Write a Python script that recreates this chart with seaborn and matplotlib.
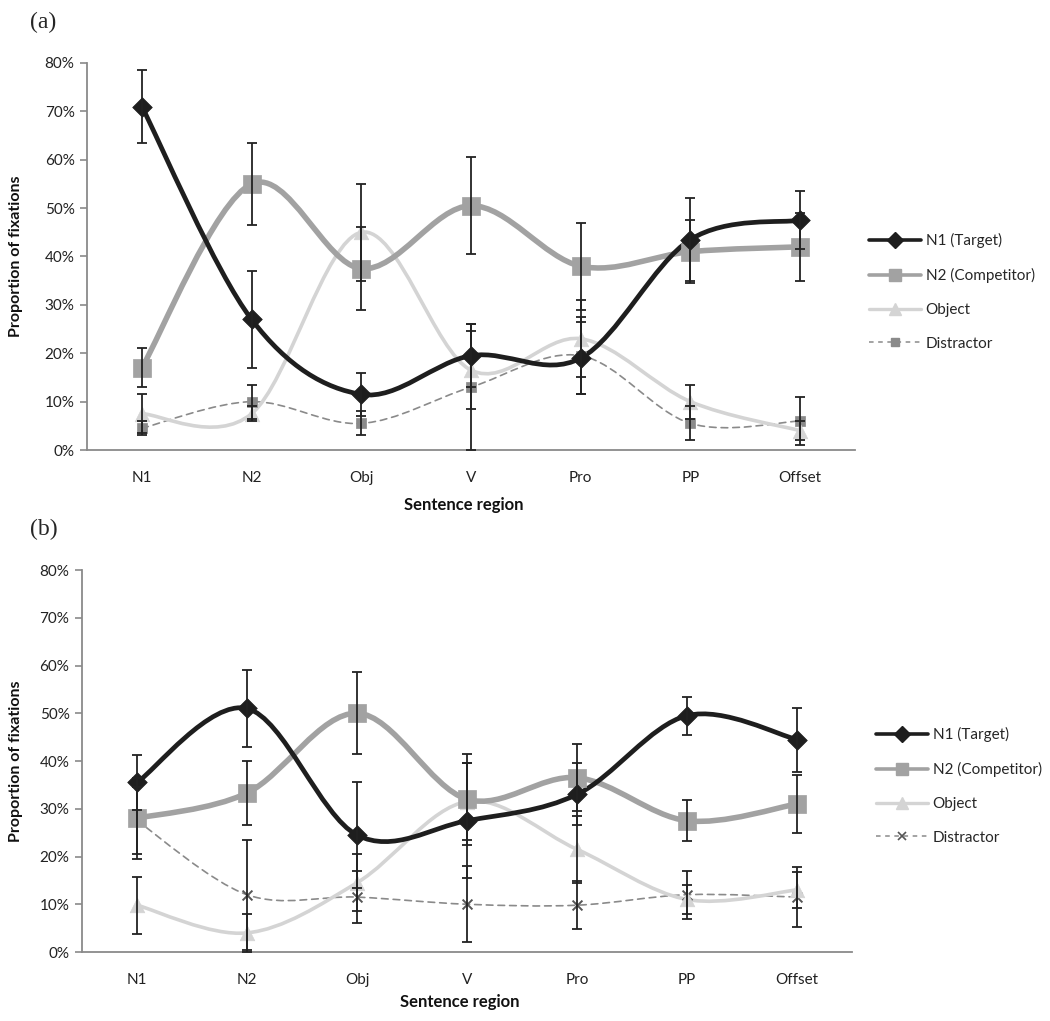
import numpy as np
import pandas as pd
import matplotlib
matplotlib.use("Agg")
import matplotlib.pyplot as plt
import seaborn as sns
from matplotlib.path import Path
from matplotlib.patches import PathPatch
from matplotlib.lines import Line2D
from matplotlib.ticker import PercentFormatter, FixedLocator

# ---------- data (proportion of fixations, %) ----------
regions = ['N1', 'N2', 'Obj', 'V', 'Pro', 'PP', 'Offset']
series_names = ['N1 (Target)', 'N2 (Competitor)', 'Object', 'Distractor']

# panel (a)
a_target = [71, 27, 11.5, 19.5, 19, 43.5, 47.5]
a_target_err = [7.5, 10, 4.5, 6.5, 7.5, 8.5, 6]
a_competitor = [17, 55, 37.5, 50.5, 38, 41, 42]
a_competitor_err = [4, 8.5, 8.5, 10, 9, 6.5, 7]
a_object = [7.5, 7.5, 45, 16.5, 23, 10, 4]
a_object_err = [4, 1.5, 10, 8, 8, 3.5, 2]
a_distractor = [4.5, 10, 5.5, 13, 19.5, 5.5, 6]
a_distractor_err = [1.5, 3.5, 2.5, 13, 8, 3.5, 5]

# panel (b)
b_target = [35.5, 51, 24.5, 27.5, 33, 49.5, 44.5]
b_target_err = [5.7, 8, 11, 12, 6.5, 4, 6.7]
b_competitor = [28, 33.3, 50, 32, 36.5, 27.5, 31]
b_competitor_err = [8.5, 6.7, 8.6, 9.5, 7, 4.3, 6]
b_object = [9.8, 4, 14.5, 31.5, 21.5, 11, 13]
b_object_err = [6, 4, 6, 8, 7, 3, 3.7]
b_distractor = [27.5, 12, 11.5, 10, 9.8, 12, 11.5]
b_distractor_err = [7, 11.5, 5.5, 8, 5, 5, 6.2]

sns.set_style("white")
plt.rcParams['font.family'] = ['Lato', 'DejaVu Sans']

# ---------- styles ----------
styles = {
    'N1 (Target)':     dict(color='#1e1e1e', lw=3.4, ls='-', marker='D', s=100, lg_lw=2.6, lg_ms=8),
    'N2 (Competitor)': dict(color='#a2a2a2', lw=4.0, ls='-', marker='s', s=180, lg_lw=2.6, lg_ms=9),
    'Object':          dict(color='#d4d4d4', lw=2.6, ls='-', marker='^', s=110, lg_lw=2.4, lg_ms=8),
    'Distractor':      dict(color='#8a8a8a', lw=1.2, ls=(0, (4, 3)), marker='s', s=45, lg_lw=1.1, lg_ms=6),
}


def smooth_path(xs, ys, t=1 / 6):
    # Excel-like smoothed line: cubic bezier through the data points
    pts = np.column_stack([xs, ys]).astype(float)
    n = len(pts)
    verts = [pts[0]]
    codes = [Path.MOVETO]
    for i in range(n - 1):
        p0 = pts[i - 1] if i > 0 else pts[i]
        p1, p2 = pts[i], pts[i + 1]
        p3 = pts[i + 2] if i + 2 < n else pts[i + 1]
        verts += [p1 + (p2 - p0) * t, p2 - (p3 - p1) * t, p2]
        codes += [Path.CURVE4] * 3
    return Path(verts, codes)


def draw_panel(ax, values, errors, distractor_marker):
    pos = np.arange(len(regions))
    order = ['Distractor', 'Object', 'N2 (Competitor)', 'N1 (Target)']
    for k, name in enumerate(order):
        st = dict(styles[name])
        if name == 'Distractor':
            st['marker'] = distractor_marker
        y = values[name]
        ax.add_patch(PathPatch(smooth_path(pos, y), fill=False, edgecolor=st['color'],
                               lw=st['lw'], ls=st['ls'], zorder=2 + k * 0.1,
                               capstyle='round', joinstyle='round'))
        df = pd.DataFrame({'pos': pos, 'value': y})
        if st['marker'] == 'x':
            sns.scatterplot(data=df, x='pos', y='value', marker='x', s=50, color='#555555',
                            linewidth=1.4, ax=ax, zorder=3, legend=False)
        else:
            sns.scatterplot(data=df, x='pos', y='value', marker=st['marker'], s=st['s'],
                            color=st['color'], edgecolor=st['color'], linewidth=0.5,
                            ax=ax, zorder=3, legend=False)
    for name in series_names:
        ax.errorbar(pos, values[name], yerr=errors[name], fmt='none', ecolor='#222222',
                    elinewidth=1.3, capsize=3.3, capthick=1.3, zorder=4)

    ax.set_xlim(-0.5, len(regions) - 0.5)
    ax.set_ylim(0, 80)
    ax.set_yticks(np.arange(0, 81, 10))
    ax.yaxis.set_major_formatter(PercentFormatter(xmax=100, decimals=0))
    ax.set_xticks(pos)
    ax.set_xticklabels(regions)
    ax.xaxis.set_minor_locator(FixedLocator(np.arange(-0.5, len(regions), 1.0)))
    ax.tick_params(axis='x', which='major', length=0, pad=15, labelsize=11, labelcolor='#222222')
    ax.tick_params(axis='x', which='minor', length=5, width=1.2, color='#8a8a8a', direction='out')
    ax.tick_params(axis='y', length=5, width=1.2, color='#8a8a8a', direction='out',
                   labelsize=11, labelcolor='#222222', pad=4, left=True)
    for side in ['top', 'right']:
        ax.spines[side].set_visible(False)
    for side in ['left', 'bottom']:
        ax.spines[side].set_color('#8a8a8a')
        ax.spines[side].set_linewidth(1.3)
    ax.set_xlabel('Sentence region', fontsize=12, fontweight='bold', color='#111111')
    ax.set_ylabel('Proportion of fixations', fontsize=11.5, fontweight='bold', color='#111111')


def legend_handles(distractor_marker):
    hs = []
    for name in series_names:
        st = styles[name]
        if name == 'Distractor' and distractor_marker == 'x':
            hs.append(Line2D([], [], color=st['color'], lw=st['lg_lw'], ls=(0, (3, 3)),
                             marker='x', ms=6, mec='#555555', mew=1.2))
        else:
            hs.append(Line2D([], [], color=st['color'], lw=st['lg_lw'],
                             ls=(0, (3, 3)) if name == 'Distractor' else '-',
                             marker=st['marker'], ms=st['lg_ms'], mfc=st['color'], mec=st['color']))
    return hs


fig = plt.figure(figsize=(10.5, 10.21), dpi=100)
W, H = 1050, 1021
ax_a = fig.add_axes([87 / W, 1 - 450 / H, 768 / W, 387 / H])
ax_b = fig.add_axes([82 / W, 1 - 952 / H, 770 / W, 382 / H])

vals_a = dict(zip(series_names, [a_target, a_competitor, a_object, a_distractor]))
errs_a = dict(zip(series_names, [a_target_err, a_competitor_err, a_object_err, a_distractor_err]))
vals_b = dict(zip(series_names, [b_target, b_competitor, b_object, b_distractor]))
errs_b = dict(zip(series_names, [b_target_err, b_competitor_err, b_object_err, b_distractor_err]))

draw_panel(ax_a, vals_a, errs_a, 's')
draw_panel(ax_b, vals_b, errs_b, 'x')

ax_a.xaxis.set_label_coords(0.49, -0.122)
ax_b.xaxis.set_label_coords(0.49, -0.11)
ax_a.yaxis.set_label_coords(-0.083, 0.5)
ax_b.yaxis.set_label_coords(-0.076, 0.5)

fig.legend(handles=legend_handles('s'), labels=series_names, loc='upper left',
           bbox_to_anchor=(863 / W, 1 - 227 / H), frameon=False, fontsize=11,
           handlelength=3.4, handletextpad=0.3, labelspacing=1.3, borderaxespad=0)
fig.legend(handles=legend_handles('x'), labels=series_names, loc='upper left',
           bbox_to_anchor=(870 / W, 1 - 721 / H), frameon=False, fontsize=11,
           handlelength=3.4, handletextpad=0.3, labelspacing=1.3, borderaxespad=0)

fig.text(30 / W, 1 - 12 / H, '(a)', family=['Liberation Serif', 'DejaVu Serif'], fontsize=17, va='top')
fig.text(30 / W, 1 - 519 / H, '(b)', family=['Liberation Serif', 'DejaVu Serif'], fontsize=17, va='top')

fig.savefig('out.png', dpi=100)
